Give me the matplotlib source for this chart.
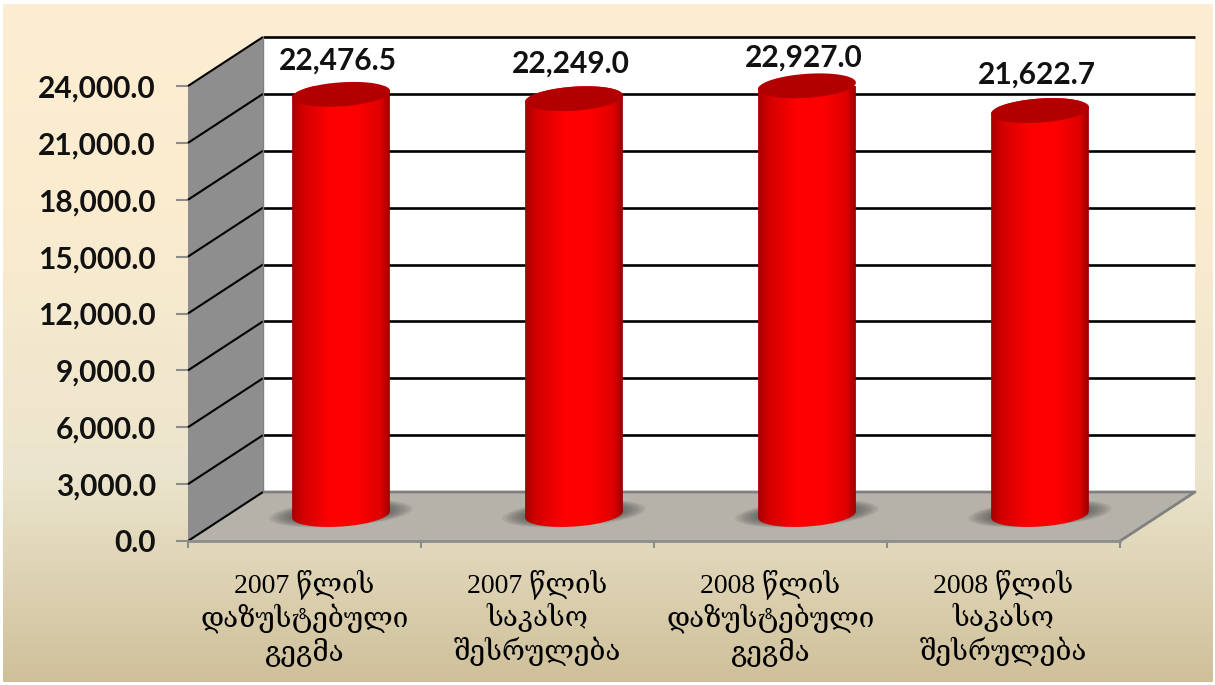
'''
3d style cylinder chart, 2007/2008 budget plan and execution
'''
import numpy as np
import matplotlib.pyplot as plt
from matplotlib.patches import Polygon
from matplotlib.transforms import IdentityTransform
from matplotlib.colors import LinearSegmentedColormap

categories = ['2007 წლის\nდაზუსტებული\nგეგმა', '2007 წლის\nსაკასო\nშესრულება',
              '2008 წლის\nდაზუსტებული\nგეგმა', '2008 წლის\nსაკასო\nშესრულება']
values = [22476.5, 22249.0, 22927.0, 21622.7]
value_labels = ['22,476.5', '22,249.0', '22,927.0', '21,622.7']
y_ticks = [0, 3000, 6000, 9000, 12000, 15000, 18000, 21000, 24000]

label_rise = [33, 34, 27, 35]  # value label height over each cylinder, pixels

W, H = 1215, 685
DX, DY = 75, 49  # depth of the 3d box in pixels
plt.rcParams['font.family'] = ['Lato', 'DejaVu Sans']

fig = plt.figure(figsize=(W/100, H/100), dpi=100, facecolor='white')

# background gradient, leaves a thin white edge like the slide picture
bg = fig.add_axes([3/W, 3/H, (W-5)/W, (H-7)/H])
bg_cmap = LinearSegmentedColormap.from_list('bg', [(0, '#fdeed3'), (0.3, '#fbecd0'),
                                                   (0.7, '#ebe4cc'), (1, '#cfc09a')])
bg.imshow(np.linspace(0, 1, 256).reshape(-1, 1), cmap=bg_cmap, aspect='auto')
bg.axis('off')

ax = fig.add_axes([188/W, (H-541)/H, 932/W, 455/H])
ax.set_xlim(-0.5, 3.5)
ax.set_ylim(0, 24000)
ax.patch.set_visible(False)


def pt(x, y, depth=0.0):
    # data coords -> pixels, depth 0 front of the box and 1 the back wall
    px, py = ax.transData.transform((x, y))
    return px + DX*depth, py + DY*depth


def add_poly(points, **kw):
    ax.add_patch(Polygon(points, closed=True, transform=IdentityTransform(), clip_on=False, **kw))


def add_line(points, **kw):
    xs, ys = zip(*points)
    ax.plot(xs, ys, transform=IdentityTransform(), clip_on=False, solid_capstyle='butt', **kw)


# box
add_poly([pt(-0.5, 0, 1), pt(3.5, 0, 1), pt(3.5, 24000, 1), pt(-0.5, 24000, 1)],
         fc='white', ec='none', zorder=1)
add_poly([pt(-0.5, 0, 0), pt(-0.5, 24000, 0), pt(-0.5, 24000, 1), pt(-0.5, 0, 1)],
         fc='#8e8e8e', ec='none', zorder=1)
add_poly([pt(-0.5, 0, 0), pt(3.5, 0, 0), pt(3.5, 0, 1), pt(-0.5, 0, 1)],
         fc='#b5b2a9', ec='none', zorder=1)

# grid lines run over the left wall and along the back
for t in y_ticks[1:]:
    add_line([pt(-0.5, t, 0), pt(-0.5, t, 1)], color='black', lw=1.5, zorder=2)
    add_line([pt(-0.5, t, 1), pt(3.5, t, 1)], color='black', lw=1.9, zorder=2)
add_line([pt(-0.5, 0, 0), pt(-0.5, 0, 1)], color='black', lw=1.5, zorder=2)
add_line([pt(-0.5, 0, 1), pt(3.5, 0, 1), pt(3.5, 0, 0)], color='#808080', lw=2, zorder=2)
add_line([pt(-0.5, 0, 1), pt(-0.5, 24000, 1)], color='#808080', lw=1, zorder=2)

# axes
for name in ['top', 'right', 'left']:
    ax.spines[name].set_visible(False)
ax.spines['bottom'].set_color('#8c8c8c')
ax.spines['bottom'].set_linewidth(2)
ax.set_yticks(y_ticks)
ax.set_yticklabels(['{:,.1f}'.format(t) for t in y_ticks], fontsize=21.5, fontweight='bold', color='#111111')
ax.tick_params(axis='y', length=8.6, width=1.5, color='#8c8c8c', pad=14.5)
ax.set_xticks([-0.5, 0.5, 1.5, 2.5, 3.5])
ax.set_xticklabels([])
ax.tick_params(axis='x', which='major', length=5, width=1.5, color='#8c8c8c')
ax.set_xticks(range(4), categories, minor=True, fontsize=20, linespacing=1.2, color='black',
              family=['Liberation Serif', 'DejaVu Serif'], ha='center', va='top')
ax.tick_params(axis='x', which='minor', length=0, pad=20)

# cylinders
half_w, minor_r, tilt = 49, 12, np.radians(4)
cyl_cmap = LinearSegmentedColormap.from_list('cyl', [(0, '#a40000'), (0.1, '#d00000'), (0.4, '#ff0000'),
                                                     (0.65, '#ff0000'), (0.9, '#e00000'), (1, '#9c0000')])


def ellipse(cx, cy, a, b, t):
    return np.column_stack([cx + a*np.cos(t)*np.cos(tilt) - b*np.sin(t)*np.sin(tilt),
                            cy + a*np.cos(t)*np.sin(tilt) + b*np.sin(t)*np.cos(tilt)])


for i, v in enumerate(values):
    bx, by = pt(i, 0, 0.5)
    tx, ty = pt(i, v, 0.5)
    bx -= 1
    tx -= 1
    by += 2
    ty -= 4

    # soft shadow on the floor
    for k in np.linspace(1, 0.6, 10):
        add_poly(ellipse(bx, by + 1, 72*k, 13*k, np.linspace(0, 2*np.pi, 60)), fc='#333333', ec='none',
                 alpha=0.09, zorder=3)

    lower = ellipse(bx, by, half_w, minor_r, np.linspace(np.pi, 2*np.pi, 50))
    upper = ellipse(tx, ty, half_w, minor_r, np.linspace(0, np.pi, 50))
    body = np.vstack([lower, upper])
    im = ax.imshow(np.linspace(0, 1, 256).reshape(1, -1), cmap=cyl_cmap, aspect='auto', zorder=4,
                   extent=(bx - half_w, bx + half_w, by - 20, ty + 20), transform=IdentityTransform(),
                   clip_on=True)
    clip = Polygon(body, closed=True, transform=IdentityTransform())
    im.set_clip_path(clip)
    add_poly(ellipse(tx, ty, half_w, minor_r, np.linspace(0, 2*np.pi, 100)), fc='#b20000', ec='none', zorder=5)

    ax.text(tx - 3, ty + label_rise[i] + 1, value_labels[i], transform=IdentityTransform(), ha='center', va='center',
            fontsize=21.5, fontweight='bold', color='#111111', zorder=6)

ax.set_xlim(-0.5, 3.5)
ax.set_ylim(0, 24000)

fig.savefig('out.png', dpi=100)
